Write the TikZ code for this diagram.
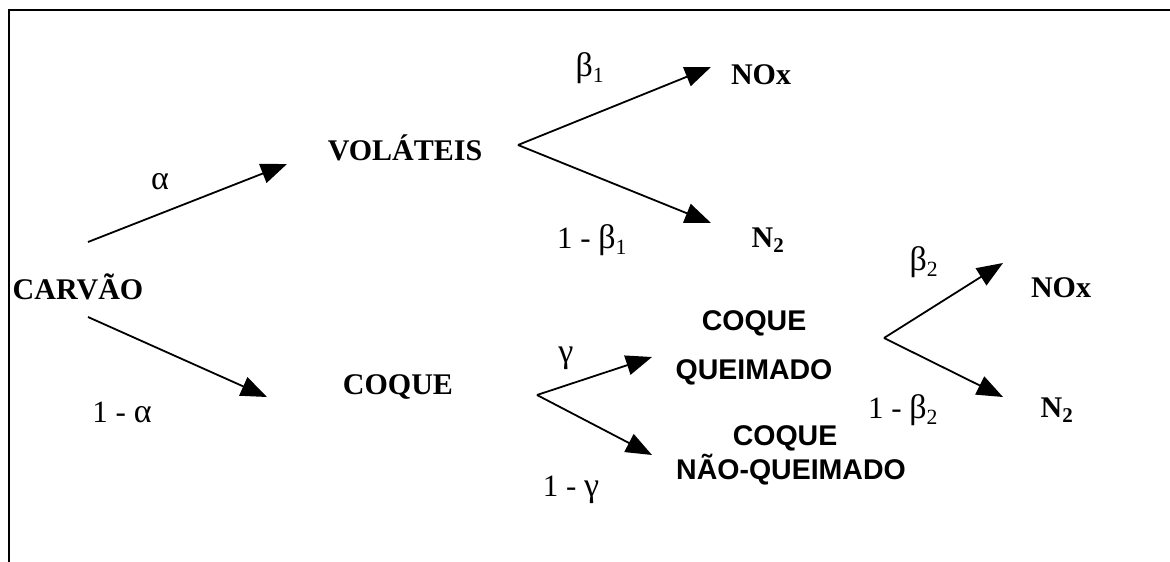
\documentclass[tikz,border=0pt]{standalone}
\usepackage{fontspec}
\setmainfont{Liberation Serif}
\newfontfamily\arialfont{Liberation Sans}
\usetikzlibrary{arrows.meta}
\newcommand{\gk}[1]{{\fontsize{34}{36}\selectfont #1}}
\tikzset{
  lbl/.style={inner sep=0pt, anchor=center, font=\fontsize{31}{36}\selectfont},
  ser/.style={inner sep=0pt, anchor=center, font=\fontsize{30}{36}\selectfont\bfseries},
  sans/.style={inner sep=0pt, anchor=center, font=\fontsize{28.5}{34}\selectfont\arialfont\bfseries},
  arr/.style={line width=1.8pt, -{Triangle[length=26pt,width=20pt]}},
  fork/.style={line width=1.8pt}
}
\begin{document}
\begin{tikzpicture}[x=1pt,y=-1pt]
\useasboundingbox (0,0) rectangle (1170,562);
% frame (top and left only)
\coordinate (fa) at (9,562);
\coordinate (fb) at (9,10);
\coordinate (fc) at (1170,10);
\draw[line width=2pt] (fa) -- (fb) -- (fc);

% nodes
\node[ser] (carvao) at (78,287) {CARVÃO};
\node[ser] (volateis) at (405,148) {VOLÁTEIS};
\node[ser] (coque) at (398,387) {COQUE};
\node[ser] (nox1) at (761,75) {NOx};
\node[ser] (n2a) at (768,240) {N\textsubscript{2}};
\node[ser] (nox2) at (1061,288) {NOx};
\node[ser] (n2b) at (1057,410) {N\textsubscript{2}};
\node[sans] (cqa) at (754,323) {COQUE};
\node[sans] (cqb) at (754,372) {QUEIMADO};
\node[sans] (cnqa) at (785,438) {COQUE};
\node[sans] (cnqb) at (791,470) {NÃO-QUEIMADO};

% labels
\node[lbl] (la) at (160,182) {\gk{α}};
\node[lbl] (l1a) at (122,412) {1 - \gk{α}};
\node[lbl] (lb1) at (590,68) {\gk{β}\textsubscript{1}};
\node[lbl] (l1b1) at (592,240) {1 - \gk{β}\textsubscript{1}};
\node[lbl] (lg) at (566,358) {\gk{γ}};
\node[lbl] (l1g) at (571,490) {1 - \gk{γ}};
\node[lbl] (lb2) at (924,262) {\gk{β}\textsubscript{2}};
\node[lbl] (l1b2) at (903,410) {1 - \gk{β}\textsubscript{2}};

% connector points
\coordinate (s1) at (88,242);
\coordinate (t1) at (287,164);
\coordinate (s2) at (88,317);
\coordinate (t2) at (267,397);
\coordinate (v1) at (518,145);
\coordinate (t3) at (711,67);
\coordinate (t4) at (711,223);
\coordinate (v2) at (537,395);
\coordinate (t5) at (652,357);
\coordinate (t6) at (652,455);
\coordinate (v3) at (884,338);
\coordinate (t7) at (1003,263);
\coordinate (t8) at (1003,397);

\draw[arr] (s1) -- (t1);
\draw[arr] (s2) -- (t2);
\draw[arr] (v1) -- (t3);
\draw[arr] (v1) -- (t4);
\draw[arr] (v2) -- (t5);
\draw[arr] (v2) -- (t6);
\draw[arr] (v3) -- (t7);
\draw[arr] (v3) -- (t8);
\end{tikzpicture}
\end{document}
